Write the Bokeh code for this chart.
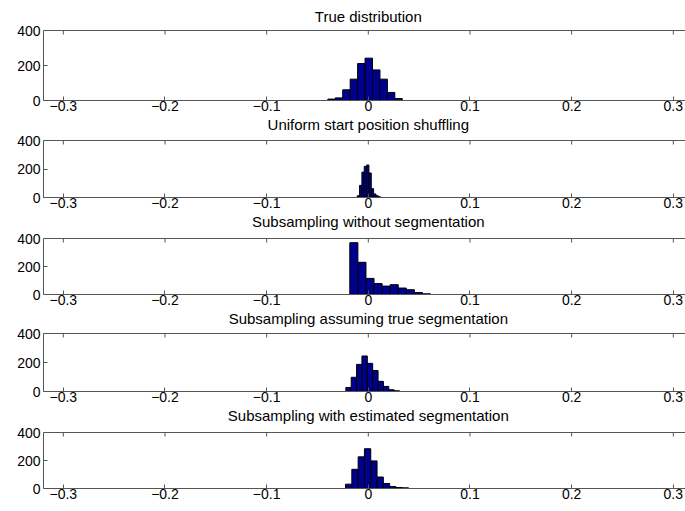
import numpy as np
from bokeh.plotting import figure
from bokeh.layouts import column
from bokeh.models import LinearAxis, FixedTicker, Range1d, Span, Label
from bokeh.embed import file_html
from bokeh.resources import INLINE

titles = ["True distribution",
          "Uniform start position shuffling",
          "Subsampling without segmentation",
          "Subsampling assuming true segmentation",
          "Subsampling with estimated segmentation"]

# histogram bins: first left edge, bin width, counts (10 bins each)
true_left, true_width = -0.0398, 0.00732
true_counts = [8, 15, 61, 122, 211, 242, 175, 122, 46, 11]

uniform_left, uniform_width = -0.0109, 0.0023
uniform_counts = [12, 85, 178, 218, 228, 172, 62, 25, 12, 5]

noseg_left, noseg_width = -0.0182, 0.00794
noseg_counts = [370, 230, 115, 78, 60, 70, 46, 34, 14, 5]

trueseg_left, trueseg_width = -0.0221, 0.00528
trueseg_counts = [28, 98, 187, 245, 194, 145, 70, 35, 12, 5]

estseg_left, estseg_width = -0.0224, 0.0062
estseg_counts = [31, 137, 226, 284, 197, 82, 36, 14, 7, 5]

x_ticks = [-0.3, -0.2, -0.1, 0, 0.1, 0.2, 0.3]
y_ticks = [0, 200, 400]
y_max = 400

series = [(true_left, true_width, true_counts),
          (uniform_left, uniform_width, uniform_counts),
          (noseg_left, noseg_width, noseg_counts),
          (trueseg_left, trueseg_width, trueseg_counts),
          (estseg_left, estseg_width, estseg_counts)]

# page layout in pixels
box_top = [30, 140, 238, 333, 432]
box_bottom = [100, 197, 294, 391, 488]
title_off = [14, 16, 17, 15, 17]
gap = 16            # bottom border (tick labels) of panels 1-4
page_h = 511

FONT = "Liberation Sans"
AX = "#555555"
figs = []
start = 0
for i, ((left, width, counts), title) in enumerate(zip(series, titles)):
    fh = box_bottom[i] - start
    boxh = box_bottom[i] - box_top[i]
    bb = gap if i < 4 else page_h - box_bottom[i]
    y_end = y_max * fh / boxh   # extra room above the box holds the title
    p = figure(width=685, height=fh + bb, output_backend="svg",
               toolbar_location=None, x_range=Range1d(-0.3195, 0.3120),
               y_range=Range1d(0, y_end), x_axis_location=None,
               y_axis_location=None)
    p.min_border_left = 43
    p.min_border_right = 0
    p.min_border_top = 0
    p.min_border_bottom = bb
    p.outline_line_color = None
    p.grid.visible = False
    p.background_fill_color = "white"

    edges = left + width * np.arange(len(counts) + 1)
    p.quad(left=edges[:-1], right=edges[1:], bottom=0, top=counts,
           fill_color="#00008F", line_color="black", line_width=1)

    # top box edge with inward ticks
    p.add_layout(Span(location=y_max, dimension="width", line_color=AX, line_width=1))
    tick_len = y_max * 4.0 / boxh
    p.segment(x0=x_ticks, x1=x_ticks, y0=y_max, y1=y_max - tick_len,
              line_color=AX, line_width=1)

    # title centred over the axes box (box centre is x = 0)
    p.add_layout(Label(x=0, y=y_max, y_offset=title_off[i], text=title,
                       text_align="center", text_baseline="middle",
                       text_font=FONT, text_font_size="15px",
                       text_color="black"))

    bottom = LinearAxis(ticker=FixedTicker(ticks=x_ticks))
    leftax = LinearAxis(ticker=FixedTicker(ticks=y_ticks), bounds=(0, y_max))
    for ax in (bottom, leftax):
        ax.major_tick_in = 4
        ax.major_tick_out = 0
        ax.minor_tick_in = 0
        ax.minor_tick_out = 0
        ax.axis_line_color = AX
        ax.major_tick_line_color = AX
        ax.major_label_text_font = FONT
        ax.major_label_text_font_size = "14px"
        ax.major_label_text_color = "black"
    bottom.major_label_standoff = 0
    leftax.major_label_standoff = 3
    p.add_layout(bottom, "below")
    p.add_layout(leftax, "left")
    figs.append(p)
    start = box_bottom[i] + bb

layout_obj = column(*figs, spacing=0)
open("out.html", "w").write(file_html(layout_obj, INLINE))
